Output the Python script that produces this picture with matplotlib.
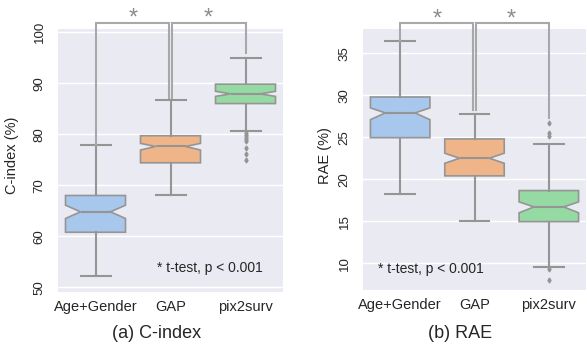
import numpy as np
import matplotlib
matplotlib.use('Agg')
import matplotlib.pyplot as plt

plt.rcParams['font.family'] = ['Liberation Sans', 'DejaVu Sans']

# Box statistics
groups = ['Age+Gender', 'GAP', 'pix2surv']
colors = ['#a7c7ec', '#f0b489', '#95d9a3']

cindex_med = [64.8, 77.6, 87.9]
cindex_q1 = [60.8, 74.4, 86.0]
cindex_q3 = [68.0, 79.7, 89.8]
cindex_lo = [52.2, 68.0, 80.7]
cindex_hi = [77.8, 86.6, 95.0]
cindex_ci_lo = [63.5, 76.9, 87.4]
cindex_ci_hi = [66.1, 78.2, 88.4]
cindex_fliers = [[], [], [80.3, 79.9, 79.5, 79.1, 78.7, 77.2, 76.2, 75.0]]

rae_med = [27.9, 22.5, 16.7]
rae_q1 = [24.95, 20.4, 14.95]
rae_q3 = [29.8, 24.8, 18.65]
rae_lo = [18.2, 15.0, 9.6]
rae_hi = [36.5, 27.8, 24.2]
rae_ci_lo = [27.1, 21.9, 16.0]
rae_ci_hi = [28.5, 23.1, 17.3]
rae_fliers = [[], [], [26.7, 25.5, 25.1, 9.3, 8.0]]

line_gray = '#959595'
bg = '#eaeaf2'
text_col = '#262626'


def make_stats(med, q1, q3, lo, hi, cilo, cihi, fliers):
    stats = []
    for i in range(len(groups)):
        stats.append(dict(med=med[i], q1=q1[i], q3=q3[i], whislo=lo[i],
                          whishi=hi[i], cilo=cilo[i], cihi=cihi[i],
                          fliers=np.array(fliers[i]), label=groups[i]))
    return stats


def draw_panel(ax, stats, ylim, yticks):
    ax.set_facecolor(bg)
    for s in ax.spines.values():
        s.set_visible(False)
    bp = ax.bxp(stats, positions=range(len(groups)), widths=0.8,
                shownotches=True, patch_artist=True,
                boxprops=dict(edgecolor=line_gray, linewidth=1.2),
                whiskerprops=dict(color=line_gray, linewidth=1.5),
                capprops=dict(color=line_gray, linewidth=1.5),
                medianprops=dict(color=line_gray, linewidth=1.5),
                flierprops=dict(marker='d', markersize=2.5, markerfacecolor=line_gray,
                                markeredgecolor=line_gray))
    for patch, c in zip(bp['boxes'], colors):
        patch.set_facecolor(c)
    ax.set_xlim(-0.5, 2.5)
    ax.set_ylim(*ylim)
    ax.set_yticks(yticks)
    ax.yaxis.grid(True, color='white', linewidth=1.0)
    ax.xaxis.grid(False)
    ax.set_axisbelow(True)
    ax.tick_params(axis='y', length=0, pad=9, labelsize=9.5, labelcolor=text_col)
    ax.tick_params(axis='x', length=0, pad=5.5, labelsize=10.5, labelcolor=text_col)
    for lab in ax.get_yticklabels():
        lab.set_rotation(90)
        lab.set_va('center')


def draw_brackets(ax, ends, star_y):
    y0, y1 = ax.get_ylim()
    y_br = y1 + 0.024 * (y1 - y0)
    d = 0.023
    kw = dict(color='#a8a8a8', linewidth=1.5, clip_on=False, solid_joinstyle='miter')
    ax.plot([0, 0, 1 - d, 1 - d], [ends[0], y_br, y_br, ends[1]], **kw)
    ax.plot([1 + d, 1 + d, 2, 2], [ends[1], y_br, y_br, ends[2]], **kw)
    for xs in (0.5, 1.5):
        ax.text(xs, y1 + star_y * (y1 - y0), '*', ha='center', va='center',
                fontsize=17, color='#8c8c8c', clip_on=False)


fig = plt.figure(figsize=(5.87, 3.49), dpi=100)
W, H = 587, 349
ax1 = fig.add_axes([58 / W, (H - 292) / H, 225 / W, 263 / H])
ax2 = fig.add_axes([363 / W, (H - 290) / H, 223 / W, 261 / H])

draw_panel(ax1, make_stats(cindex_med, cindex_q1, cindex_q3, cindex_lo, cindex_hi,
                           cindex_ci_lo, cindex_ci_hi, cindex_fliers),
           (49.1, 100.6), [50, 60, 70, 80, 90, 100])
draw_panel(ax2, make_stats(rae_med, rae_q1, rae_q3, rae_lo, rae_hi,
                           rae_ci_lo, rae_ci_hi, rae_fliers),
           (6.8, 37.9), [10, 15, 20, 25, 30, 35])

draw_brackets(ax1, [cindex_hi[0], 87.1, 95.9], 0.04)
draw_brackets(ax2, [rae_hi[0], 28.25, 27.3], 0.035)

ax1.text(0.44, 0.091, '* t-test, p < 0.001', transform=ax1.transAxes,
         ha='left', va='center', fontsize=10, color=text_col)
ax2.text(0.067, 0.08, '* t-test, p < 0.001', transform=ax2.transAxes,
         ha='left', va='center', fontsize=10, color=text_col)

fig.text(12 / W, 1 - 155 / H, 'C-index (%)', rotation=90, ha='center', va='center',
         fontsize=10.5, color=text_col)
fig.text(325 / W, 1 - 156 / H, 'RAE (%)', rotation=90, ha='center', va='center',
         fontsize=10.5, color=text_col)
fig.text(157 / W, 1 - 333 / H, '(a) C-index', ha='center', va='center',
         fontsize=13, color=text_col)
fig.text(460 / W, 1 - 333 / H, '(b) RAE', ha='center', va='center',
         fontsize=13, color=text_col)

fig.savefig('out.png', dpi=100)
